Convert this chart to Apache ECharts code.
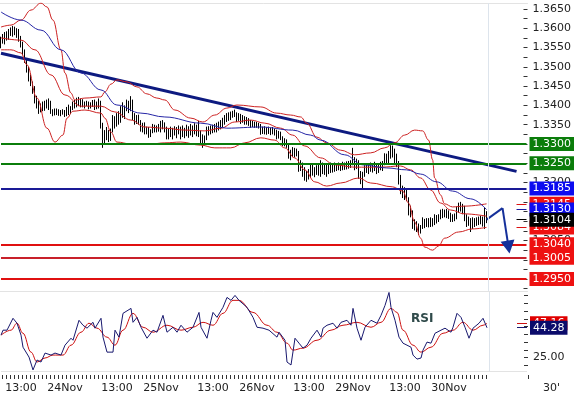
<!DOCTYPE html>
<html>
<head>
<meta charset="utf-8">
<script src="https://cdn.jsdelivr.net/npm/echarts@6/dist/echarts.min.js"></script>
<style>
html, body { margin: 0; padding: 0; background: #fff; }
#main { width: 574px; height: 398px; }
</style>
</head>
<body>
<div id="main"></div>
<script>
// trading days on the axis (weekend skipped), 30 minute bars from 23Nov 08:00
var days = ['23Nov', '24Nov', '25Nov', '26Nov', '29Nov', '30Nov'];

var opens = [
  1.3560,1.3570,1.3565,1.3582,1.3575,1.3590,1.3585,1.3598,1.3590,1.3595,
  1.3572,1.3558,1.3535,1.3515,1.3490,1.3468,1.3455,1.3440,1.3412,1.3398,
  1.3390,1.3400,1.3392,1.3405,1.3398,1.3410,1.3385,1.3380,1.3388,1.3382,
  1.3378,1.3384,1.3380,1.3376,1.3390,1.3382,1.3394,1.3405,1.3398,1.3415,
  1.3405,1.3412,1.3400,1.3405,1.3402,1.3395,1.3404,1.3400,1.3392,1.3406,
  1.3398,1.3350,1.3312,1.3320,1.3330,1.3312,1.3335,1.3365,1.3350,1.3372,
  1.3360,1.3390,1.3380,1.3395,1.3405,1.3390,1.3412,1.3372,1.3358,1.3368,
  1.3355,1.3340,1.3348,1.3332,1.3340,1.3322,1.3330,1.3345,1.3336,1.3342,
  1.3338,1.3352,1.3345,1.3335,1.3320,1.3334,1.3325,1.3336,1.3330,1.3338,
  1.3332,1.3340,1.3325,1.3338,1.3328,1.3340,1.3332,1.3344,1.3335,1.3342,
  1.3328,1.3310,1.3300,1.3315,1.3338,1.3330,1.3342,1.3335,1.3348,1.3340,
  1.3352,1.3345,1.3362,1.3370,1.3375,1.3378,1.3380,1.3384,1.3378,1.3365,
  1.3374,1.3360,1.3368,1.3356,1.3364,1.3352,1.3357,1.3348,1.3354,1.3346,
  1.3350,1.3332,1.3340,1.3330,1.3338,1.3332,1.3336,1.3330,1.3334,1.3320,
  1.3328,1.3318,1.3302,1.3308,1.3296,1.3268,1.3278,1.3285,1.3272,1.3280,
  1.3240,1.3250,1.3225,1.3212,1.3222,1.3215,1.3242,1.3225,1.3235,1.3228,
  1.3240,1.3230,1.3245,1.3228,1.3242,1.3232,1.3245,1.3235,1.3245,1.3238,
  1.3246,1.3240,1.3248,1.3240,1.3250,1.3244,1.3252,1.3258,1.3240,1.3255,
  1.3220,1.3205,1.3220,1.3238,1.3232,1.3242,1.3236,1.3245,1.3238,1.3230,
  1.3246,1.3240,1.3250,1.3268,1.3255,1.3276,1.3290,1.3272,1.3260,1.3248,
  1.3205,1.3180,1.3172,1.3165,1.3160,1.3125,1.3120,1.3090,1.3085,1.3080,
  1.3070,1.3085,1.3100,1.3090,1.3102,1.3092,1.3104,1.3094,1.3110,1.3102,
  1.3112,1.3124,1.3115,1.3126,1.3116,1.3120,1.3105,1.3112,1.3108,1.3130,
  1.3140,1.3132,1.3138,1.3108,1.3095,1.3102,1.3085,1.3100,1.3092,1.3104,
  1.3096,1.3108,1.3094,1.3120
];
var highs = [
  1.3578,1.3585,1.3590,1.3592,1.3598,1.3602,1.3606,1.3604,1.3600,1.3598,
  1.3580,1.3565,1.3545,1.3520,1.3500,1.3480,1.3462,1.3450,1.3425,1.3412,
  1.3405,1.3410,1.3412,1.3415,1.3418,1.3412,1.3390,1.3392,1.3392,1.3390,
  1.3388,1.3390,1.3388,1.3396,1.3402,1.3398,1.3410,1.3414,1.3420,1.3422,
  1.3418,1.3416,1.3410,1.3412,1.3410,1.3408,1.3414,1.3415,1.3410,1.3418,
  1.3412,1.3355,1.3336,1.3344,1.3336,1.3340,1.3375,1.3372,1.3380,1.3385,
  1.3398,1.3408,1.3400,1.3415,1.3412,1.3424,1.3415,1.3380,1.3375,1.3376,
  1.3362,1.3355,1.3356,1.3345,1.3344,1.3338,1.3352,1.3350,1.3348,1.3352,
  1.3360,1.3362,1.3356,1.3345,1.3340,1.3345,1.3342,1.3346,1.3344,1.3348,
  1.3345,1.3348,1.3342,1.3350,1.3346,1.3352,1.3348,1.3354,1.3350,1.3360,
  1.3335,1.3325,1.3322,1.3345,1.3346,1.3348,1.3350,1.3352,1.3355,1.3358,
  1.3362,1.3368,1.3375,1.3380,1.3382,1.3384,1.3386,1.3389,1.3382,1.3380,
  1.3378,1.3375,1.3372,1.3370,1.3367,1.3362,1.3360,1.3358,1.3357,1.3355,
  1.3352,1.3345,1.3346,1.3344,1.3345,1.3342,1.3344,1.3340,1.3337,1.3334,
  1.3332,1.3320,1.3315,1.3312,1.3298,1.3285,1.3292,1.3290,1.3288,1.3282,
  1.3258,1.3252,1.3240,1.3230,1.3235,1.3250,1.3248,1.3240,1.3245,1.3248,
  1.3258,1.3252,1.3250,1.3250,1.3248,1.3252,1.3250,1.3252,1.3250,1.3252,
  1.3250,1.3254,1.3252,1.3255,1.3256,1.3258,1.3290,1.3266,1.3262,1.3258,
  1.3230,1.3228,1.3245,1.3250,1.3248,1.3252,1.3250,1.3254,1.3250,1.3250,
  1.3254,1.3256,1.3276,1.3275,1.3282,1.3297,1.3296,1.3288,1.3275,1.3256,
  1.3220,1.3192,1.3188,1.3182,1.3162,1.3140,1.3128,1.3105,1.3100,1.3094,
  1.3090,1.3110,1.3106,1.3108,1.3108,1.3110,1.3108,1.3118,1.3116,1.3118,
  1.3130,1.3132,1.3130,1.3132,1.3128,1.3122,1.3118,1.3120,1.3138,1.3148,
  1.3150,1.3145,1.3140,1.3118,1.3112,1.3108,1.3110,1.3108,1.3110,1.3112,
  1.3114,1.3112,1.3136,1.3126
];
var lows = [
  1.3548,1.3560,1.3558,1.3568,1.3570,1.3580,1.3578,1.3582,1.3575,1.3565,
  1.3550,1.3530,1.3510,1.3485,1.3462,1.3450,1.3430,1.3405,1.3392,1.3378,
  1.3382,1.3385,1.3386,1.3392,1.3388,1.3378,1.3372,1.3374,1.3375,1.3373,
  1.3372,1.3376,1.3370,1.3372,1.3375,1.3378,1.3388,1.3392,1.3395,1.3398,
  1.3395,1.3395,1.3392,1.3398,1.3390,1.3392,1.3396,1.3388,1.3390,1.3392,
  1.3340,1.3290,1.3298,1.3310,1.3305,1.3308,1.3330,1.3340,1.3345,1.3350,
  1.3355,1.3368,1.3365,1.3385,1.3380,1.3385,1.3362,1.3350,1.3352,1.3350,
  1.3332,1.3330,1.3325,1.3325,1.3316,1.3318,1.3328,1.3330,1.3330,1.3332,
  1.3330,1.3338,1.3330,1.3312,1.3312,1.3318,1.3312,1.3322,1.3315,1.3325,
  1.3312,1.3318,1.3315,1.3320,1.3316,1.3322,1.3318,1.3325,1.3320,1.3318,
  1.3298,1.3290,1.3296,1.3310,1.3322,1.3325,1.3328,1.3330,1.3330,1.3335,
  1.3338,1.3342,1.3350,1.3357,1.3360,1.3362,1.3368,1.3370,1.3357,1.3360,
  1.3352,1.3355,1.3350,1.3350,1.3347,1.3342,1.3344,1.3342,1.3342,1.3340,
  1.3324,1.3326,1.3325,1.3324,1.3326,1.3323,1.3325,1.3322,1.3312,1.3314,
  1.3310,1.3295,1.3294,1.3290,1.3262,1.3258,1.3266,1.3265,1.3268,1.3228,
  1.3230,1.3215,1.3205,1.3202,1.3208,1.3212,1.3218,1.3214,1.3220,1.3218,
  1.3215,1.3222,1.3220,1.3215,1.3222,1.3225,1.3226,1.3228,1.3230,1.3232,
  1.3230,1.3232,1.3233,1.3234,1.3236,1.3238,1.3245,1.3232,1.3235,1.3210,
  1.3196,1.3186,1.3215,1.3225,1.3222,1.3228,1.3226,1.3230,1.3222,1.3225,
  1.3232,1.3230,1.3245,1.3246,1.3250,1.3262,1.3265,1.3246,1.3240,1.3195,
  1.3170,1.3160,1.3155,1.3152,1.3115,1.3110,1.3080,1.3076,1.3072,1.3064,
  1.3068,1.3080,1.3082,1.3085,1.3084,1.3085,1.3086,1.3090,1.3094,1.3098,
  1.3105,1.3108,1.3110,1.3108,1.3106,1.3098,1.3098,1.3100,1.3105,1.3122,
  1.3125,1.3118,1.3100,1.3085,1.3088,1.3072,1.3080,1.3085,1.3088,1.3090,
  1.3092,1.3086,1.3080,1.3095
];
var closes = [
  1.3570,1.3565,1.3582,1.3575,1.3590,1.3585,1.3598,1.3590,1.3595,1.3572,
  1.3558,1.3535,1.3515,1.3490,1.3468,1.3455,1.3440,1.3412,1.3398,1.3390,
  1.3400,1.3392,1.3405,1.3398,1.3410,1.3385,1.3380,1.3388,1.3382,1.3378,
  1.3384,1.3380,1.3376,1.3390,1.3382,1.3394,1.3405,1.3398,1.3415,1.3405,
  1.3412,1.3400,1.3405,1.3402,1.3395,1.3404,1.3400,1.3392,1.3406,1.3398,
  1.3350,1.3312,1.3320,1.3330,1.3312,1.3335,1.3365,1.3350,1.3372,1.3360,
  1.3390,1.3380,1.3395,1.3405,1.3390,1.3412,1.3372,1.3358,1.3368,1.3355,
  1.3340,1.3348,1.3332,1.3340,1.3322,1.3330,1.3345,1.3336,1.3342,1.3338,
  1.3352,1.3345,1.3335,1.3320,1.3334,1.3325,1.3336,1.3330,1.3338,1.3332,
  1.3340,1.3325,1.3338,1.3328,1.3340,1.3332,1.3344,1.3335,1.3342,1.3328,
  1.3310,1.3300,1.3315,1.3338,1.3330,1.3342,1.3335,1.3348,1.3340,1.3352,
  1.3345,1.3362,1.3370,1.3375,1.3378,1.3380,1.3384,1.3378,1.3365,1.3374,
  1.3360,1.3368,1.3356,1.3364,1.3352,1.3357,1.3348,1.3354,1.3346,1.3350,
  1.3332,1.3340,1.3330,1.3338,1.3332,1.3336,1.3330,1.3334,1.3320,1.3328,
  1.3318,1.3302,1.3308,1.3296,1.3268,1.3278,1.3285,1.3272,1.3280,1.3240,
  1.3250,1.3225,1.3212,1.3222,1.3215,1.3242,1.3225,1.3235,1.3228,1.3240,
  1.3230,1.3245,1.3228,1.3242,1.3232,1.3245,1.3235,1.3245,1.3238,1.3246,
  1.3240,1.3248,1.3240,1.3250,1.3244,1.3252,1.3258,1.3240,1.3255,1.3220,
  1.3205,1.3220,1.3238,1.3232,1.3242,1.3236,1.3245,1.3238,1.3230,1.3246,
  1.3240,1.3250,1.3268,1.3255,1.3276,1.3290,1.3272,1.3260,1.3248,1.3205,
  1.3180,1.3172,1.3165,1.3160,1.3125,1.3120,1.3090,1.3085,1.3080,1.3070,
  1.3085,1.3100,1.3090,1.3102,1.3092,1.3104,1.3094,1.3110,1.3102,1.3112,
  1.3124,1.3115,1.3126,1.3116,1.3120,1.3105,1.3112,1.3108,1.3130,1.3140,
  1.3132,1.3138,1.3108,1.3095,1.3102,1.3085,1.3100,1.3092,1.3104,1.3096,
  1.3108,1.3094,1.3120,1.3104
];

// indicator readings: [bar index, value]
var bbUpper = [[0,1.3603],[5,1.3608],[10,1.3621],[15,1.3647],[20,1.3665],[23,1.3655],[26,1.3621],[30,1.3544],[32,1.3484],[35,1.3432],[37,1.3414],[42,1.3419],[50,1.3422],[52,1.3435],[55,1.3455],[58,1.3466],[63,1.3461],[68,1.3448],[73,1.3430],[78,1.3419],[82,1.3414],[87,1.3388],[95,1.3367],[101,1.3357],[107,1.3375],[113,1.3393],[118,1.3401],[130,1.3396],[138,1.3380],[145,1.3375],[150,1.3370],[153,1.3354],[158,1.3318],[163,1.3303],[170,1.3284],[177,1.3272],[185,1.3277],[192,1.3290],[197,1.3303],[202,1.3323],[207,1.3336],[211,1.3334],[214,1.3310],[216,1.3259],[217,1.3212],[220,1.3168],[222,1.3145],[226,1.3137],[232,1.3139],[243,1.3145]];
var bbMiddle = [[0,1.3575],[10,1.3569],[17,1.3544],[25,1.3479],[32,1.3427],[40,1.3398],[50,1.3398],[57,1.3383],[65,1.3362],[72,1.3344],[82,1.3341],[92,1.3336],[102,1.3334],[110,1.3341],[117,1.3357],[125,1.3362],[132,1.3354],[140,1.3341],[146,1.3323],[152,1.3295],[160,1.3264],[167,1.3246],[177,1.3240],[190,1.3240],[200,1.3243],[205,1.3233],[210,1.3212],[215,1.3181],[220,1.3147],[225,1.3129],[232,1.3119],[243,1.3113]];
var bbLower = [[0,1.3544],[5,1.3544],[10,1.3536],[13,1.3505],[18,1.3419],[23,1.3341],[27,1.3305],[31,1.3323],[33,1.3367],[36,1.3385],[42,1.3388],[50,1.3380],[52,1.3367],[55,1.3331],[58,1.3305],[65,1.3300],[75,1.3300],[82,1.3303],[90,1.3305],[100,1.3297],[107,1.3290],[115,1.3290],[122,1.3303],[130,1.3316],[137,1.3310],[142,1.3290],[147,1.3264],[152,1.3233],[157,1.3202],[163,1.3191],[170,1.3199],[179,1.3212],[185,1.3199],[196,1.3189],[201,1.3178],[204,1.3147],[207,1.3098],[210,1.3056],[212,1.3033],[216,1.3025],[219,1.3036],[222,1.3056],[229,1.3072],[236,1.3080],[243,1.3084]];
var maLine = [[0,1.3642],[10,1.3621],[20,1.3595],[30,1.3544],[40,1.3484],[50,1.3440],[58,1.3401],[70,1.3380],[82,1.3370],[100,1.3354],[113,1.3341],[130,1.3344],[146,1.3336],[155,1.3323],[160,1.3310],[172,1.3272],[181,1.3246],[193,1.3238],[203,1.3233],[210,1.3222],[218,1.3202],[226,1.3178],[235,1.3158],[243,1.3130]];
var rsiLine = [[0,39.5],[1,42.7],[3,42.7],[6,50.4],[8,47.2],[10,39.5],[11,31.7],[14,25.3],[16,17.0],[18,23.4],[20,22.1],[22,27.9],[25,26.6],[27,27.9],[30,26.6],[32,33.0],[35,37.5],[36,36.2],[39,49.1],[41,45.9],[43,44.0],[46,47.8],[47,44.0],[50,50.4],[51,38.2],[53,28.5],[56,28.5],[57,42.7],[59,38.2],[61,53.6],[65,56.8],[66,47.8],[68,51.0],[70,44.6],[73,37.5],[76,42.7],[78,41.4],[81,52.3],[83,41.4],[86,44.6],[88,41.4],[90,45.9],[93,41.4],[96,44.6],[99,54.2],[100,44.6],[103,37.5],[105,49.1],[106,54.2],[108,51.0],[111,57.5],[113,63.9],[115,62.0],[117,65.2],[119,62.0],[123,57.5],[126,51.0],[128,44.6],[131,44.0],[134,42.7],[138,38.2],[139,41.4],[142,36.2],[143,22.1],[145,20.2],[147,37.5],[149,34.3],[151,31.1],[153,33.0],[155,37.5],[158,42.7],[160,38.2],[161,44.0],[163,45.9],[166,47.2],[168,44.0],[170,47.8],[173,49.1],[175,45.9],[176,56.8],[178,44.0],[180,36.2],[182,44.6],[185,49.1],[188,47.2],[190,52.3],[192,58.7],[194,67.1],[195,57.5],[197,49.1],[199,38.2],[201,34.3],[205,31.7],[206,26.6],[208,24.0],[210,24.7],[211,29.8],[213,35.0],[215,34.3],[217,40.7],[220,42.7],[222,44.0],[225,41.4],[226,44.6],[228,53.6],[230,51.0],[232,44.6],[234,37.5],[236,44.0],[239,47.2],[241,50.4],[243,44.28]];
var rsiSignal = [[0,39.5],[5,42.7],[8,47.2],[11,40.7],[15,28.5],[18,22.1],[22,24.7],[26,26.6],[31,26.6],[35,33.0],[40,41.4],[44,47.2],[48,44.0],[53,38.2],[57,33.0],[61,42.7],[66,53.6],[71,44.6],[76,41.4],[83,45.9],[90,42.7],[96,44.6],[101,47.8],[106,45.9],[111,53.6],[116,62.0],[119,62.0],[126,54.2],[133,45.9],[138,41.4],[143,34.3],[146,29.8],[151,31.1],[158,36.2],[165,42.7],[171,45.9],[178,47.8],[185,44.6],[190,47.8],[195,56.8],[198,54.2],[201,42.7],[206,33.0],[210,28.5],[215,31.7],[221,40.7],[226,42.7],[231,47.8],[236,42.7],[241,45.9],[243,47.16]];

// drawn levels, trend line and projected path
var levels = [1.3300, 1.3250, 1.3185, 1.3040, 1.3005, 1.2950];
var levelColors = ['#0b7d0b', '#0b7d0b', '#1a1a96', '#e01010', '#c8202a', '#e01010'];
var levelBoxes = ['#0b7d0b', '#0b7d0b', '#0c0cf0', '#ee1111', '#ee1111', '#ee1111'];
var trendLine = [[0, 1.3535], [258, 1.3229]];
var projection = [[243, 1.3104], [251, 1.3134], [254, 1.3033]];

// axis ticks and labels
var priceLabels = [1.2950,1.3000,1.3050,1.3100,1.3150,1.3200,1.3250,1.3300,1.3350,1.3400,1.3450,1.3500,1.3550,1.3600,1.3650];
var priceTicks = [1.2925,1.2950,1.2975,1.3000,1.3025,1.3050,1.3075,1.3100,1.3125,1.3150,1.3175,1.3200,1.3225,1.3250,1.3275,1.3300,1.3325,1.3350,1.3375,1.3400,1.3425,1.3450,1.3475,1.3500,1.3525,1.3550,1.3575,1.3600,1.3625,1.3650];
var rsiLabels = [25];
var rsiTicks = [20, 25, 30, 35, 40, 45, 50, 55, 60, 65];

var FONT = 'DejaVu Sans';

// category names, one per half hour
var cats = [];
days.forEach(function (d, di) {
  for (var h = 0; h < 48; h++) {
    if (di === 0 && h < 16) continue;
    var hh = Math.floor(h / 2);
    cats.push(d + ' ' + (hh < 10 ? '0' + hh : hh) + ':' + (h % 2 ? '30' : '00'));
  }
});
cats = cats.slice(0, 264);

var LAST = closes.length - 1;
var EDGE = cats[LAST + 1];
var STUB_A = cats[258], STUB_B = cats[263];

function pairs(arr) {
  return arr.map(function (p) { return [cats[p[0]], p[1]]; });
}
function lastOf(arr) {
  return arr[arr.length - 1][1];
}
function span(a, b, v, color, width, bg, digits) {
  return [
    { coord: [a, v], lineStyle: { color: color, width: width, type: 'solid' },
      label: { backgroundColor: bg, formatter: v.toFixed(digits) } },
    { coord: [b, v] }
  ];
}
function stub(v, color, bg, digits) {
  return span(STUB_A, STUB_B, v, color, 1, bg, digits);
}

var boxLabel = {
  show: true, position: 'end', distance: 3, color: '#fff',
  fontFamily: FONT, fontSize: 11, padding: [1, 3, 0, 3], lineHeight: 13
};
var separator = { xAxis: EDGE, lineStyle: { color: '#dde4ec', width: 1, type: 'solid' }, label: { show: false } };

var candleData = opens.map(function (o, i) {
  return [o, closes[i], lows[i], highs[i]];
});

var showHour = function (index, value) {
  var t = value.slice(-5);
  return index <= LAST && (t === '13:00' || t === '00:00');
};

var chart = echarts.init(document.getElementById('main'));

var option = {
  animation: false,
  textStyle: { fontFamily: FONT },
  grid: [
    { left: 0, right: 46, top: 3, height: 288 },
    { left: 0, right: 46, top: 292, height: 79 }
  ],
  xAxis: [
    { type: 'category', gridIndex: 0, data: cats,
      axisLine: { lineStyle: { color: '#e3e3e3' } }, axisTick: { show: false }, axisLabel: { show: false } },
    { type: 'category', gridIndex: 0, position: 'top', data: cats,
      axisLine: { lineStyle: { color: '#e3e3e3' } }, axisTick: { show: false }, axisLabel: { show: false } },
    { type: 'category', gridIndex: 1, data: cats, offset: 4,
      axisLine: { show: false },
      axisTick: { show: true, length: 4, lineStyle: { color: '#333' },
        interval: function (index) { return index <= LAST && index % 2 === 1; } },
      axisLabel: { interval: showHour, color: '#222', fontSize: 11, margin: 8,
        formatter: function (value) {
          var t = value.slice(-5);
          return t === '00:00' ? value.split(' ')[0] : t;
        } } }
  ],
  yAxis: [
    { type: 'value', gridIndex: 0, position: 'right', min: 1.291917, max: 1.366528,
      splitLine: { show: false }, axisLine: { show: false },
      axisTick: { show: true, inside: true, length: 4, customValues: priceTicks, lineStyle: { color: '#333' } },
      axisLabel: { customValues: priceLabels, color: '#222', fontSize: 11, margin: 5,
        formatter: function (v) { return v.toFixed(4); } } },
    { type: 'value', gridIndex: 1, position: 'right', min: 16.3, max: 67.4,
      splitLine: { show: false }, axisLine: { show: false },
      axisTick: { show: true, inside: true, length: 4, customValues: rsiTicks, lineStyle: { color: '#333' } },
      axisLabel: { customValues: rsiLabels, color: '#222', fontSize: 11, margin: 5,
        formatter: function (v) { return v.toFixed(2); } } }
  ],
  graphic: [
    { type: 'text', left: 411, top: 313, style: { text: 'RSI', font: 'bold 12px "DejaVu Sans"', fill: '#2f4a4a' } },
    { type: 'text', left: 543, top: 383, style: { text: "30'", font: '11px "DejaVu Sans"', fill: '#222' } }
  ],
  series: [
    {
      name: 'trend', type: 'line', xAxisIndex: 0, yAxisIndex: 0, silent: true,
      data: pairs(trendLine), symbol: 'none',
      lineStyle: { color: '#0d1a80', width: 3 },
      markLine: {
        silent: true, symbol: 'none', label: boxLabel,
        data: levels.map(function (v, i) {
          return span(cats[0], cats[cats.length - 1], v, levelColors[i], 2, levelBoxes[i], 4);
        })
      }
    },
    {
      name: 'bbUpper', type: 'line', xAxisIndex: 0, yAxisIndex: 0, silent: true,
      data: pairs(bbUpper), symbol: 'none', smooth: 0.4, smoothMonotone: 'x',
      lineStyle: { color: '#cc2222', width: 1 },
      markLine: { silent: true, symbol: 'none', label: boxLabel,
        data: [stub(lastOf(bbUpper), '#dd1111', '#ee1111', 4)] }
    },
    {
      name: 'bbMiddle', type: 'line', xAxisIndex: 0, yAxisIndex: 0, silent: true,
      data: pairs(bbMiddle), symbol: 'none', smooth: 0.4, smoothMonotone: 'x',
      lineStyle: { color: '#cc2222', width: 1 }
    },
    {
      name: 'bbLower', type: 'line', xAxisIndex: 0, yAxisIndex: 0, silent: true,
      data: pairs(bbLower), symbol: 'none', smooth: 0.4, smoothMonotone: 'x',
      lineStyle: { color: '#cc2222', width: 1 },
      markLine: { silent: true, symbol: 'none', label: boxLabel,
        data: [stub(lastOf(bbLower), '#dd1111', '#ee1111', 4)] }
    },
    {
      name: 'ma', type: 'line', xAxisIndex: 0, yAxisIndex: 0, silent: true,
      data: pairs(maLine), symbol: 'none', smooth: 0.4, smoothMonotone: 'x',
      lineStyle: { color: '#2626a6', width: 1 },
      markLine: { silent: true, symbol: 'none', label: boxLabel,
        data: [stub(lastOf(maLine), '#1a1aa0', '#0c0cf0', 4)] }
    },
    {
      name: 'projection', type: 'line', xAxisIndex: 0, yAxisIndex: 0, silent: true,
      data: pairs(projection.slice(0, 2)), symbol: 'none',
      lineStyle: { color: '#15309a', width: 2 },
      markLine: {
        silent: true, symbol: ['none', 'triangle'], symbolSize: [14, 13],
        label: { show: false },
        lineStyle: { color: '#15309a', width: 2, type: 'solid' },
        data: [[{ coord: pairs(projection)[1] }, { coord: pairs(projection)[2] }]]
      }
    },
    {
      name: 'price', type: 'candlestick', xAxisIndex: 0, yAxisIndex: 0, silent: true,
      data: candleData, barWidth: 1,
      itemStyle: { color: '#000', color0: '#000', borderColor: '#000', borderColor0: '#000', borderWidth: 1 },
      markLine: { silent: true, symbol: 'none', label: boxLabel,
        data: [separator, stub(closes[LAST], '#000', '#000', 4)] }
    },
    {
      name: 'rsiSignal', type: 'line', xAxisIndex: 2, yAxisIndex: 1, silent: true,
      data: pairs(rsiSignal), symbol: 'none', smooth: 0.4, smoothMonotone: 'x',
      lineStyle: { color: '#cc1111', width: 1 },
      markLine: { silent: true, symbol: 'none', label: boxLabel,
        data: [
          [{ coord: [cats[0], 16.3], lineStyle: { color: '#e3e3e3', width: 1, type: 'solid' }, label: { show: false } },
           { coord: [cats[cats.length - 1], 16.3] }],
          separator,
          stub(lastOf(rsiSignal), '#cc1111', '#e00000', 2)
        ] }
    },
    {
      name: 'rsi', type: 'line', xAxisIndex: 2, yAxisIndex: 1, silent: true,
      data: pairs(rsiLine), symbol: 'none',
      lineStyle: { color: '#18186e', width: 1 },
      markLine: { silent: true, symbol: 'none', label: boxLabel,
        data: [stub(lastOf(rsiLine), '#18186e', '#0b0b6b', 2)] }
    }
  ]
};

chart.setOption(option);
</script>
</body>
</html>
